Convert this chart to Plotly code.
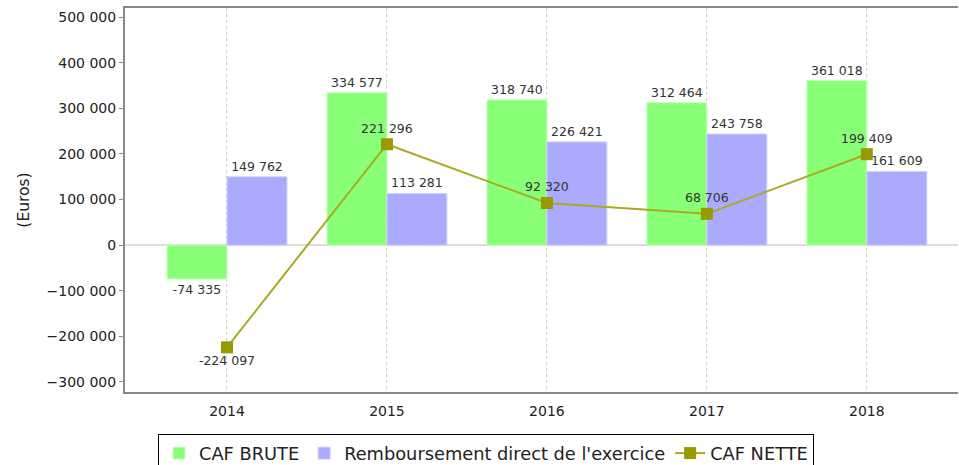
import plotly.graph_objects as go

years = ["2014", "2015", "2016", "2017", "2018"]
caf_brute = [-74335, 334577, 318740, 312464, 361018]
remboursement = [149762, 113281, 226421, 243758, 161609]
caf_nette = [-224097, 221296, 92320, 68706, 199409]
y_ticks = [500000, 400000, 300000, 200000, 100000, 0, -100000, -200000, -300000]

FONT = "DejaVu Sans"
LABEL = dict(family=FONT, size=12.5, color="#333333")

fig = go.Figure()
fig.add_trace(go.Bar(
    x=years, y=caf_brute, name="CAF BRUTE",
    marker=dict(color="#88FF77", line=dict(color="#C8FFC0", width=1)),
    text=caf_brute, texttemplate="%{y:,d}", textposition="outside",
    textfont=LABEL, cliponaxis=False,
))
fig.add_trace(go.Bar(
    x=years, y=remboursement, name="Remboursement direct de l'exercice",
    marker=dict(color="#AAAAFF", line=dict(color="#D0D0FF", width=1)),
    text=remboursement, texttemplate="%{y:,d}", textposition="outside",
    textfont=LABEL, cliponaxis=False,
))
fig.add_trace(go.Scatter(
    x=years, y=caf_nette, name="CAF NETTE", mode="lines+markers+text",
    line=dict(color="#AAAA22", width=2),
    marker=dict(symbol="square", size=12, color="#999900"),
    text=caf_nette, texttemplate="%{y:,d}",
    textposition=["bottom center" if v < 0 else "top center" for v in caf_nette],
    textfont=LABEL, cliponaxis=False,
))

fig.update_layout(
    width=959, height=465,
    margin=dict(l=125, r=1, t=8, b=73, autoexpand=False),
    paper_bgcolor="white", plot_bgcolor="white",
    separators=", ",
    barmode="group", bargap=0.25, bargroupgap=0,
    font=dict(family=FONT, size=14, color="#222222"),
    showlegend=True,
    legend=dict(
        orientation="h", x=(158 - 125) / 833, xanchor="left",
        y=(392 - 434) / 384, yanchor="top",
        bordercolor="#000000", borderwidth=1,
        font=dict(family=FONT, size=17.8, color="#222222"),
        itemwidth=30, tracegroupgap=0,
    ),
)
fig.update_xaxes(
    type="category", range=[-0.6375, 4.57], automargin=False,
    showgrid=True, gridcolor="#CCCCCC", griddash="dot", gridwidth=1,
    showline=True, linecolor="#888888", linewidth=2, mirror=True,
    ticks="", ticklabelstandoff=5,
    tickfont=dict(family=FONT, size=14, color="#222222"),
)
fig.update_yaxes(
    range=[-322000, 520000], tickvals=y_ticks, tickformat=",d", automargin=False,
    showgrid=False, zeroline=True, zerolinecolor="#DDDDDD", zerolinewidth=2,
    showline=True, linecolor="#888888", linewidth=2,
    ticks="outside", ticklen=4, tickcolor="#888888",
    tickfont=dict(family=FONT, size=14, color="#222222"),
    title=dict(text="(Euros)", font=dict(family=FONT, size=15.5, color="#222222"), standoff=13),
)

fig.write_html(
    "out.html",
    config={"displayModeBar": False},
    post_script="document.body.style.margin='0';document.body.style.overflow='hidden';",
)
